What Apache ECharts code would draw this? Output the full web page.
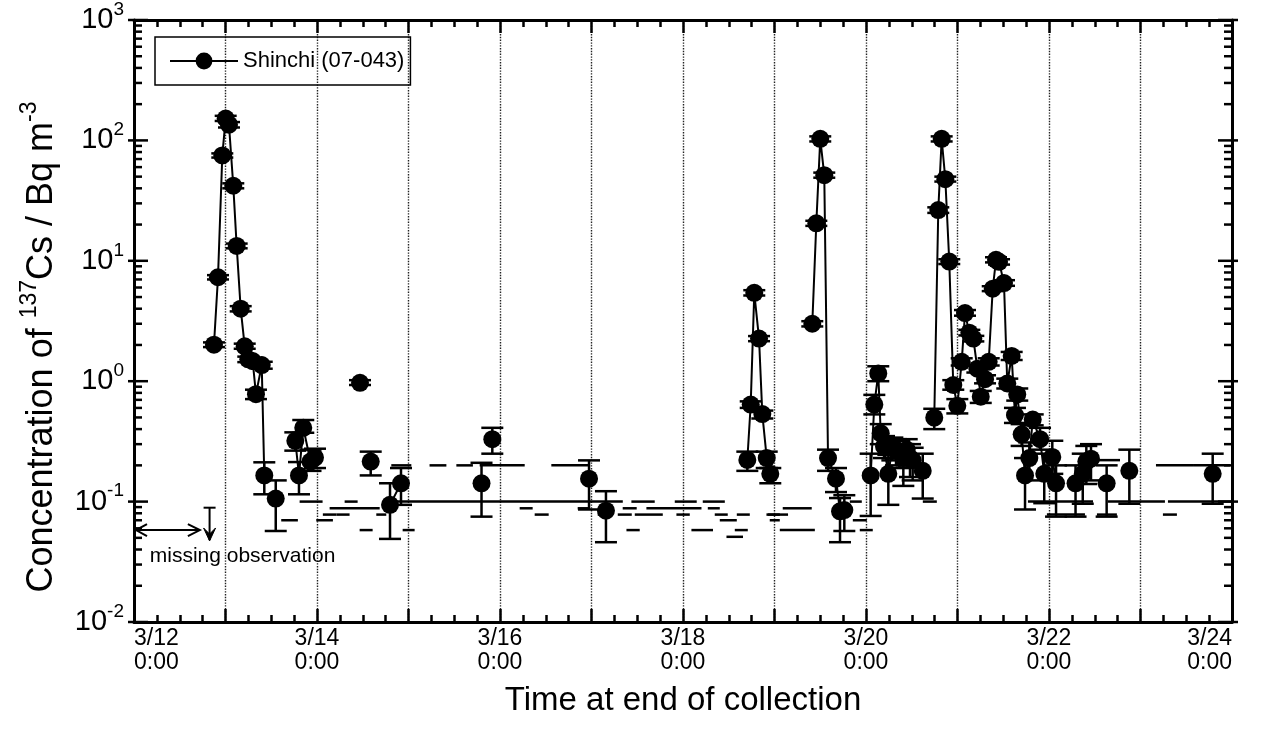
<!DOCTYPE html>
<html><head><meta charset="utf-8">
<script src="https://cdn.jsdelivr.net/npm/echarts@6/dist/echarts.min.js"></script>
<style>html,body{margin:0;padding:0;background:#fff}#c{width:1264px;height:735px}</style>
</head><body><div id="c"></div>
<script>
// Time = days after 3/12 0:00
const detTime = [0.874,0.918,0.965,1.002,1.038,1.085,1.122,1.166,1.210,1.249,1.297,1.333,1.396,1.424,
  1.549,
  1.763,1.803,1.850,1.929,1.978,
  2.470,2.587,
  2.798,2.918,
  3.798,3.916,4.973,5.158,
  6.703,6.740,6.779,6.831,6.867,6.915,6.954,
  7.413,7.457,7.500,7.544,7.585,7.672,7.716,7.763,
  8.051,8.091,8.134,8.161,8.197,8.244,8.288,8.328,8.364,8.408,8.445,8.481,8.510,
  8.620,
  8.746,8.790,8.827,8.867,8.910,8.954,8.998,9.046,9.082,9.129,9.173,9.217,9.254,9.301,9.341,9.385,9.421,9.454,9.508,9.544,9.592,9.628,9.653,9.701,9.738,9.785,9.822,9.902,9.948,
  10.036,10.077,
  10.290,10.369,10.408,10.459,
  10.630,10.878,11.789];
const detValue = [2.01,7.3,75,152,135,42,13.3,4.0,1.95,1.52,1.47,0.78,1.36,0.165,
  0.106,
  0.32,0.165,0.41,0.215,0.232,
  0.97,0.215,
  0.094,0.142,
  0.142,0.33,0.155,0.084,
  0.222,0.64,5.42,2.26,0.533,0.23,0.17,
  3.0,20.5,103,51.4,0.23,0.155,0.083,0.085,
  0.165,0.64,1.16,0.369,0.287,0.17,0.278,0.27,0.26,0.23,0.27,0.23,0.22,
  0.18,
  0.498,26.4,103,47.6,9.86,0.93,0.625,1.45,3.68,2.53,2.26,1.27,0.743,1.04,1.45,5.86,10.2,9.8,6.53,0.957,1.62,0.524,0.776,0.362,0.165,0.23,0.48,0.33,0.17,
  0.235,0.142,
  0.142,0.17,0.215,0.227,
  0.142,0.18,0.17];
const errLow = [1.92,7.0,72,145,128,40,12.7,3.8,1.86,1.44,1.38,0.71,1.27,0.115,
  0.057,
  0.265,0.115,0.373,0.18,0.19,
  0.93,0.165,
  0.049,0.094,
  0.075,0.25,0.086,0.046,
  0.18,0.6,5.15,2.15,0.49,0.19,0.142,
  2.85,19.5,98,49,0.18,0.12,0.046,0.057,
  0.076,0.53,1.0,0.30,0.23,0.094,0.22,0.2,0.19,0.135,0.2,0.16,0.15,
  0.106,
  0.40,25,98,45.5,9.4,0.85,0.54,1.35,3.5,2.4,2.14,1.18,0.66,0.96,1.35,5.6,9.7,9.3,6.2,0.87,1.5,0.45,0.69,0.29,0.086,0.15,0.43,0.27,0.097,
  0.17,0.075,
  0.075,0.096,0.14,0.15,
  0.075,0.096,0.096];
const errHigh = [2.1,7.6,78,160,142,44,13.9,4.2,2.05,1.60,1.56,0.85,1.45,0.212,
  0.15,
  0.376,0.213,0.476,0.27,0.275,
  1.02,0.26,
  0.142,0.19,
  0.21,0.41,0.22,0.122,
  0.26,0.68,5.7,2.37,0.57,0.26,0.19,
  3.15,21.5,108,54,0.27,0.19,0.107,0.113,
  0.25,0.77,1.33,0.44,0.35,0.245,0.34,0.33,0.32,0.3,0.33,0.3,0.28,
  0.25,
  0.59,27.8,108,50,10.3,1.02,0.71,1.55,3.9,2.67,2.38,1.36,0.83,1.12,1.55,6.15,10.7,10.3,6.9,1.05,1.75,0.6,0.87,0.44,0.23,0.31,0.53,0.41,0.25,
  0.32,0.2,
  0.2,0.25,0.29,0.3,
  0.2,0.27,0.25];
// samples joined by the line (0 = not joined)
const lineGroup = [1,1,1,1,1,1,1,1,1,1,1,1,1,1,
  0,
  2,2,2,2,2,
  0,0,
  3,3,
  0,0,0,0,
  4,4,4,4,4,4,4,
  5,5,5,5,5,5,5,5,
  6,6,6,6,6,6,6,6,6,6,6,6,6,
  0,
  7,7,7,7,7,7,7,7,7,7,7,7,7,7,7,7,7,7,7,7,7,7,7,7,7,7,7,7,7,
  8,8,
  9,9,9,9,
  0,0,0];
// below detection limit: sampling start, end, detection limit (Bq/m3)
const ndStart = [1.609,1.810,1.992,2.064,2.214,2.138,2.302,2.466,2.648,2.936,2.867,2.812,3.230,3.523,3.778,4.561,4.215,4.849,5.341,5.600,6.271,4.379,5.068,5.287,5.473,5.928,6.347,6.588,6.927,5.436,5.910,6.216,6.402,6.948,5.382,6.092,6.566,6.475,6.912,7.090,7.058,7.823,7.856,7.932,8.621,9.770,10.644,11.300,9.977,10.524,11.245,11.169,11.574,10.524];
const ndEnd   = [1.791,2.061,2.174,2.214,2.356,2.685,2.444,2.608,2.757,3.067,5.342,3.031,3.414,3.704,4.270,4.962,4.357,4.980,5.494,6.202,6.402,4.532,5.221,5.440,5.779,6.074,6.489,6.730,7.058,5.691,6.150,6.457,6.588,7.058,5.527,6.328,6.708,6.656,7.148,7.407,7.441,7.954,8.009,8.074,8.774,10.481,11.267,11.990,10.393,10.742,11.398,11.574,11.978,10.776];
const ndLimit = [0.070,0.1,0.070,0.078,0.078,0.088,0.1,0.058,0.078,0.058,0.1,0.2,0.2,0.2,0.2,0.2,0.088,0.088,0.088,0.088,0.088,0.078,0.078,0.078,0.078,0.078,0.078,0.078,0.078,0.1,0.1,0.1,0.070,0.070,0.058,0.058,0.058,0.051,0.078,0.088,0.058,0.1,0.070,0.058,0.1,0.1,0.1,0.1,0.078,0.078,0.078,0.2,0.2,0.221];
const xLabelDays = [12,14,16,18,20,22,24];
const yDecades = [-2,-1,0,1,2,3];
const seriesName = 'Shinchi (07-043)';

const FONT = 'Liberation Sans, Arial, Helvetica, sans-serif';
const chart = echarts.init(document.getElementById('c'), null, {renderer:'canvas'});

const lineData = [];
for (let i = 0; i < detTime.length; i++) {
  if (i > 0 && (lineGroup[i] === 0 || lineGroup[i] !== lineGroup[i-1])) {
    lineData.push([(detTime[i-1] + detTime[i]) / 2, '-']);
  }
  lineData.push([detTime[i], detValue[i]]);
}
const errData = detTime.map((t, i) => [t, errLow[i], errHigh[i]]);
const ndData = ndStart.map((s, i) => [s, ndEnd[i], ndLimit[i]]);
const yTickData = [];
for (const e of yDecades) {
  yTickData.push([0, Math.pow(10, e), 1]);
  if (e < 3) for (let m = 2; m <= 9; m++) yTickData.push([0, m * Math.pow(10, e), 0]);
}

const blk = '#000';
const xAxisBase = {
  type:'value', min:0, max:12, interval:1,
  axisLine:{show:true, onZero:false, lineStyle:{color:blk, width:3}},
  axisTick:{show:true, inside:true, length:13, lineStyle:{color:blk, width:2.5}},
  minorTick:{show:true, splitNumber:4, length:7, lineStyle:{color:blk, width:2.5}}
};
const yAxisBase = {
  type:'log', logBase:10, min:0.01, max:1000,
  axisLine:{show:true, onZero:false, lineStyle:{color:blk, width:3}},
  axisTick:{show:false}, minorTick:{show:false}, splitLine:{show:false}
};

chart.setOption({
  animation:false,
  backgroundColor:'#fff',
  grid:{left:134, right:32, top:17, bottom:113},
  legend:{
    data:[seriesName], left:155, top:37, padding:[13,6,13,14], itemGap:6,
    borderColor:blk, borderWidth:1.5, itemWidth:68, itemHeight:21,
    textStyle:{fontFamily:FONT, fontSize:22, color:blk}
  },
  xAxis:[
    Object.assign({}, xAxisBase, {
      position:'bottom',
      name:'Time at end of collection', nameLocation:'middle', nameGap:62,
      nameTextStyle:{fontFamily:FONT, fontSize:33, color:blk},
      splitLine:{show:true, lineStyle:{type:'dotted', color:'#222', width:1.4}},
      axisLabel:{
        margin:5, color:blk, fontFamily:FONT, fontSize:23, lineHeight:24,
        alignMinLabel:'left', alignMaxLabel:'right',
        formatter:v => (xLabelDays.indexOf(12 + v) >= 0 ? '3/' + (12 + v) + '\n0:00' : '')
      }
    }),
    Object.assign({}, xAxisBase, {position:'top', axisLabel:{show:false}, splitLine:{show:false}})
  ],
  yAxis:[
    Object.assign({}, yAxisBase, {
      position:'left',
      axisLabel:{
        margin:10, color:blk,
        formatter:v => '{b|10}{s|' + Math.round(Math.log10(v)) + '}',
        rich:{
          b:{fontFamily:FONT, fontSize:29, color:blk, lineHeight:30},
          s:{fontFamily:FONT, fontSize:19, color:blk, lineHeight:19, padding:[0,0,21,0]}
        }
      }
    }),
    Object.assign({}, yAxisBase, {position:'right', axisLabel:{show:false}})
  ],
  series:[
    {
      type:'custom', name:'ticks', silent:true, z:4, clip:false,
      data:yTickData, encode:{x:0, y:1},
      renderItem:(params, api) => {
        const p = api.coord([0, api.value(1)]);
        const cs = params.coordSys;
        const major = api.value(2) === 1;
        const inL = major ? 14 : 8, outL = major ? 6 : 0;
        const st = {stroke:blk, lineWidth:2.5};
        return {type:'group', children:[
          {type:'line', shape:{x1:cs.x - outL, y1:p[1], x2:cs.x + inL, y2:p[1]}, style:st},
          {type:'line', shape:{x1:cs.x + cs.width - inL, y1:p[1], x2:cs.x + cs.width + outL, y2:p[1]}, style:st}
        ]};
      }
    },
    {
      type:'custom', name:'limits', silent:true, z:2,
      data:ndData, encode:{x:[0,1], y:2},
      renderItem:(params, api) => {
        const a = api.coord([api.value(0), api.value(2)]);
        const b = api.coord([api.value(1), api.value(2)]);
        return {type:'line', shape:{x1:a[0], y1:a[1], x2:b[0], y2:b[1]}, style:{stroke:blk, lineWidth:2.5}};
      }
    },
    {
      type:'custom', name:'errors', silent:true, z:3,
      data:errData, encode:{x:0, y:[1,2]},
      renderItem:(params, api) => {
        const lo = api.coord([api.value(0), api.value(1)]);
        const hi = api.coord([api.value(0), api.value(2)]);
        const hw = 11, st = {stroke:blk, lineWidth:2.5};
        return {type:'group', children:[
          {type:'line', shape:{x1:lo[0], y1:lo[1], x2:hi[0], y2:hi[1]}, style:st},
          {type:'line', shape:{x1:lo[0]-hw, y1:lo[1], x2:lo[0]+hw, y2:lo[1]}, style:st},
          {type:'line', shape:{x1:hi[0]-hw, y1:hi[1], x2:hi[0]+hw, y2:hi[1]}, style:st}
        ]};
      }
    },
    {
      type:'line', name:seriesName, data:lineData, z:5,
      symbol:'circle', symbolSize:18, showSymbol:true, showAllSymbol:true, connectNulls:false,
      lineStyle:{color:blk, width:2}, itemStyle:{color:blk}
    }
  ]
});

// annotation for the missing observation
const P = (t, v) => chart.convertToPixel({gridIndex:0}, [t, v]);
const a0 = P(0, 0.058), a1 = P(0.72, 0.058);
const d0 = P(0.826, 0.089), d1 = P(0.826, 0.048);
const tx = P(1.186, 0.035);
const ln = {stroke:blk, lineWidth:2, fill:null};
chart.setOption({graphic:[
  {type:'line', shape:{x1:a0[0]+1, y1:a0[1], x2:a1[0], y2:a1[1]}, style:ln},
  {type:'polyline', shape:{points:[[a0[0]+13,a0[1]-6],[a0[0]+2,a0[1]],[a0[0]+13,a0[1]+6]]}, style:ln},
  {type:'polyline', shape:{points:[[a1[0]-12,a1[1]-6],[a1[0],a1[1]],[a1[0]-12,a1[1]+6]]}, style:ln},
  {type:'line', shape:{x1:d0[0], y1:d0[1], x2:d1[0], y2:d1[1]}, style:ln},
  {type:'line', shape:{x1:d0[0]-6, y1:d0[1], x2:d0[0]+6, y2:d0[1]}, style:ln},
  {type:'polygon', shape:{points:[[d1[0]-6,d1[1]-12],[d1[0],d1[1]+1],[d1[0]+6,d1[1]-12],[d1[0],d1[1]-6]]}, style:{fill:blk, stroke:blk, lineWidth:1}},
  {type:'text', x:tx[0], y:tx[1], style:{text:'missing observation', fontFamily:FONT, fontSize:21, fill:blk, align:'center', verticalAlign:'middle'}},
  {type:'text', x:42, y:347, rotation:Math.PI/2, style:{
    text:'{a|Concentration of }{s|137}{a|Cs / Bq m}{s|-3}',
    align:'center', verticalAlign:'middle',
    rich:{
      a:{fontFamily:FONT, fontSize:36, fill:blk, lineHeight:42},
      s:{fontFamily:FONT, fontSize:23, fill:blk, lineHeight:23, padding:[0,0,24,0]}
    }
  }}
]});
</script>
</body></html>
